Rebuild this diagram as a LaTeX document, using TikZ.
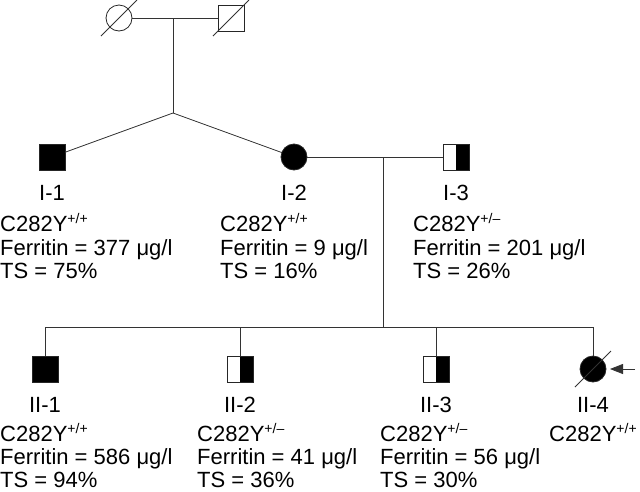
\documentclass[tikz,border=0pt]{standalone}
\usepackage{fontspec}
\setmainfont{Liberation Sans}
\usetikzlibrary{arrows.meta}
\newcommand{\gsup}[1]{\raisebox{0.36em}{\fontsize{14}{14}\selectfont #1}}
\begin{document}
\begin{tikzpicture}[x=1pt,y=-1pt,
  every node/.style={font=\fontsize{22}{24}\selectfont},
  male/.style={draw=black!85, rectangle, minimum size=26pt, inner sep=0pt, outer sep=0pt, line width=0.8pt},
  female/.style={draw=black!85, circle, minimum size=26pt, inner sep=0pt, outer sep=0pt, line width=0.8pt},
  affected/.style={fill=black},
  carrier/.style={path picture={\fill[black] (path picture bounding box.north) rectangle (path picture bounding box.south east);}},
  link/.style={line width=0.8pt, draw=black!80},
  txt/.style={anchor=base west, inner sep=0pt},
  idl/.style={anchor=base, inner sep=0pt}
]
\useasboundingbox (0,0) rectangle (640,491);

% generation 0
\node[female] (P1) at (119,18) {};
\node[male] (P2) at (231,18) {};
\draw[link] (119,18) ++(-18,18) coordinate (d1a) -- ++(36,-36) coordinate (d1b);
\draw[link] (231,18) ++(-18,18) coordinate (d2a) -- ++(36,-36) coordinate (d2b);
\draw[link] (P1) -- (P2);
\coordinate (m0) at (173,18);
\coordinate (j0) at (173,113);
\draw[link] (m0) -- (j0);

% generation I
\node[male, affected] (I1) at (52,157) {};
\node[female, affected] (I2) at (294,157) {};
\node[male, carrier] (I3) at (456,157) {};
\draw[link] (j0) -- (I1);
\draw[link] (j0) -- (I2);
\draw[link] (I2) -- (I3);

\node[idl] (I1l) at (52,200) {I-1};
\node[idl] (I2l) at (294,200) {I-2};
\node[idl] (I3l) at (456,200) {I-3};

\node[txt] (I1a) at (0,231) {C282Y\gsup{+/+}};
\node[txt] (I1b) at (0,255) {Ferritin = 377 μg/l};
\node[txt] (I1c) at (0,278) {TS = 75\%};
\node[txt] (I2a) at (220,231) {C282Y\gsup{+/+}};
\node[txt] (I2b) at (220,255) {Ferritin = 9 μg/l};
\node[txt] (I2c) at (220,278) {TS = 16\%};
\node[txt] (I3a) at (413,231) {C282Y\gsup{+/–}};
\node[txt] (I3b) at (413,255) {Ferritin = 201 μg/l};
\node[txt] (I3c) at (413,278) {TS = 26\%};

% sibship
\coordinate (m1) at (383,157);
\coordinate (s1) at (383,327);
\draw[link] (m1) -- (s1);

% generation II
\node[male, affected] (II1) at (45,369) {};
\node[male, carrier] (II2) at (240,369) {};
\node[male, carrier] (II3) at (436,369) {};
\node[female, affected] (II4) at (593,369) {};
\coordinate (sL) at (45,327);
\coordinate (sR) at (593,327);
\coordinate (s2) at (240,327);
\coordinate (s3) at (436,327);
\draw[link] (sL) -- (sR);
\draw[link] (sL) -- (II1);
\draw[link] (s2) -- (II2);
\draw[link] (s3) -- (II3);
\draw[link] (sR) -- (II4);
\draw[link] (593,369) ++(-18,18) coordinate (d3a) -- ++(36,-36) coordinate (d3b);
\coordinate (arA) at (635,369);
\coordinate (arB) at (610,369);
\draw[link, -{Triangle[length=13pt,width=10pt]}] (arA) -- (arB);
\node[idl] (II1l) at (45,412) {II-1};
\node[idl] (II2l) at (240,412) {II-2};
\node[idl] (II3l) at (436,412) {II-3};
\node[idl] (II4l) at (593,412) {II-4};

\node[txt] (II1a) at (0,441) {C282Y\gsup{+/+}};
\node[txt] (II1b) at (0,464) {Ferritin = 586 μg/l};
\node[txt] (II1c) at (0,487) {TS = 94\%};
\node[txt] (II2a) at (197,441) {C282Y\gsup{+/–}};
\node[txt] (II2b) at (197,464) {Ferritin = 41 μg/l};
\node[txt] (II2c) at (197,487) {TS = 36\%};
\node[txt] (II3a) at (380,441) {C282Y\gsup{+/–}};
\node[txt] (II3b) at (380,464) {Ferritin = 56 μg/l};
\node[txt] (II3c) at (380,487) {TS = 30\%};
\node[txt] (II4a) at (549,441) {C282Y\gsup{+/+}};
\end{tikzpicture}
\end{document}
